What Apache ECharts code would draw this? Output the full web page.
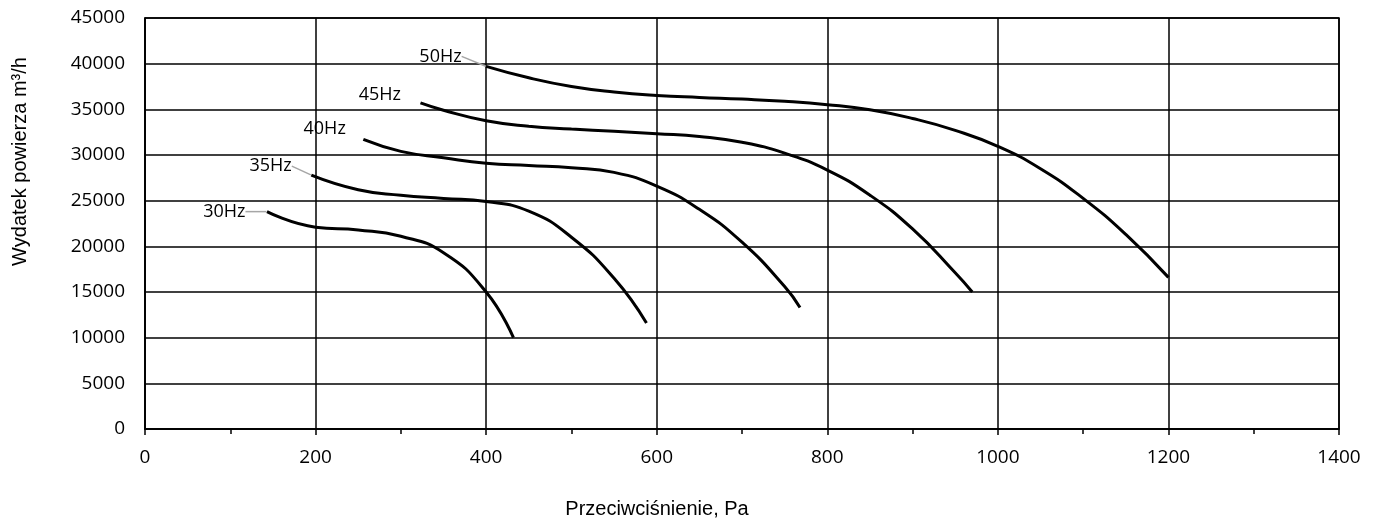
<!DOCTYPE html>
<html>
<head>
<meta charset="utf-8">
<script src="https://cdn.jsdelivr.net/npm/echarts@6/dist/echarts.min.js"></script>
<style>html,body{margin:0;padding:0;background:#fff}#c{width:1374px;height:526px}</style>
</head>
<body>
<div id="c"></div>
<script>
// Pressure (Pa) and airflow (m3/h) per curve
const seriesNames = ['30Hz', '35Hz', '40Hz', '45Hz', '50Hz'];
const x30 = [143, 200, 250, 300, 350, 400, 432];
const y30 = [23800, 22100, 21800, 21100, 19300, 15000, 10000];
const x35 = [195, 250, 300, 350, 400, 450, 500, 550, 588];
const y35 = [27800, 26200, 25600, 25250, 24900, 23850, 21000, 16500, 11600];
const x40 = [256, 300, 350, 400, 450, 500, 550, 600, 650, 700, 750, 768];
const y40 = [31700, 30400, 29700, 29100, 28850, 28600, 28100, 26600, 24050, 20450, 15600, 13300];
const x45 = [323, 350, 400, 450, 500, 550, 600, 650, 700, 750, 800, 850, 900, 950, 970];
const y45 = [35700, 34900, 33750, 33150, 32850, 32600, 32330, 32030, 31400, 30200, 28350, 25600, 21900, 17100, 15000];
const x50 = [400, 450, 500, 550, 600, 650, 700, 750, 800, 850, 900, 950, 1000, 1050, 1100, 1150, 1200];
const y50 = [39700, 38450, 37500, 36900, 36520, 36300, 36120, 35880, 35510, 34950, 34000, 32700, 30950, 28500, 25250, 21300, 16600];
const xTitle = 'Przeciwciśnienie, Pa';
const yTitle = 'Wydatek powierza m³/h';

const xsAll = [x30, x35, x40, x45, x50];
const ysAll = [y30, y35, y40, y45, y50];
// label placement (pixels relative to the first point)
const labelMove = [[-16, 0], [-14, -9], [-12, -11], [-14, -8], [-19, -10]];
const labelGuide = [true, true, false, false, true];

const chart = echarts.init(document.getElementById('c'), null, {renderer: 'canvas'});
const series = seriesNames.map((name, s) => ({
  name: name,
  type: 'line',
  smooth: 0.5,
  showSymbol: true,
  symbol: 'circle',
  symbolSize: 1,
  itemStyle: {color: 'rgba(0,0,0,0)'},
  silent: true,
  lineStyle: {color: '#000', width: 3},
  labelLine: {show: labelGuide[s], lineStyle: {color: '#a6a6a6', width: 1.5}},
  labelLayout: {dx: labelMove[s][0], dy: labelMove[s][1]},
  data: xsAll[s].map((x, i) => i === 0 ? {
    value: [x, ysAll[s][i]],
    label: {
      show: true, position: 'left', distance: 5,
      formatter: name,
      color: '#000', fontFamily: 'Open Sans', fontSize: 18
    }
  } : [x, ysAll[s][i]])
}));

chart.setOption({
  animation: false,
  backgroundColor: '#fff',
  grid: {left: 145, right: 35, top: 18, bottom: 97, show: true, borderColor: '#000', borderWidth: 1.5},
  xAxis: {
    type: 'value', min: 0, max: 1400, interval: 200,
    name: xTitle, nameLocation: 'middle', nameGap: 70,
    nameTextStyle: {fontFamily: 'Liberation Sans', fontSize: 20, color: '#000', padding: [0, 170, 0, 0]},
    axisLine: {show: true, lineStyle: {color: '#000', width: 1.5}},
    axisTick: {show: true, length: 6, lineStyle: {color: '#000', width: 1.5}},
    minorTick: {show: true, splitNumber: 2, length: 5, lineStyle: {color: '#000', width: 1.5}},
    axisLabel: {fontFamily: 'Open Sans', fontSize: 19, color: '#000', margin: 19, formatter: v => String(v)},
    splitLine: {show: true, lineStyle: {color: '#000', width: 1.5}}
  },
  yAxis: {
    type: 'value', min: 0, max: 45000, interval: 5000,
    name: yTitle, nameLocation: 'middle', nameGap: 115,
    nameTextStyle: {fontFamily: 'Liberation Sans', fontSize: 20, color: '#000', padding: [0, 0, 0, 124]},
    axisLine: {show: true, lineStyle: {color: '#000', width: 1.5}},
    axisTick: {show: false},
    axisLabel: {fontFamily: 'Open Sans', fontSize: 19, color: '#000', margin: 20, formatter: v => String(v)},
    splitLine: {show: true, lineStyle: {color: '#000', width: 1.5}}
  },
  series: series
});
</script>
</body>
</html>
